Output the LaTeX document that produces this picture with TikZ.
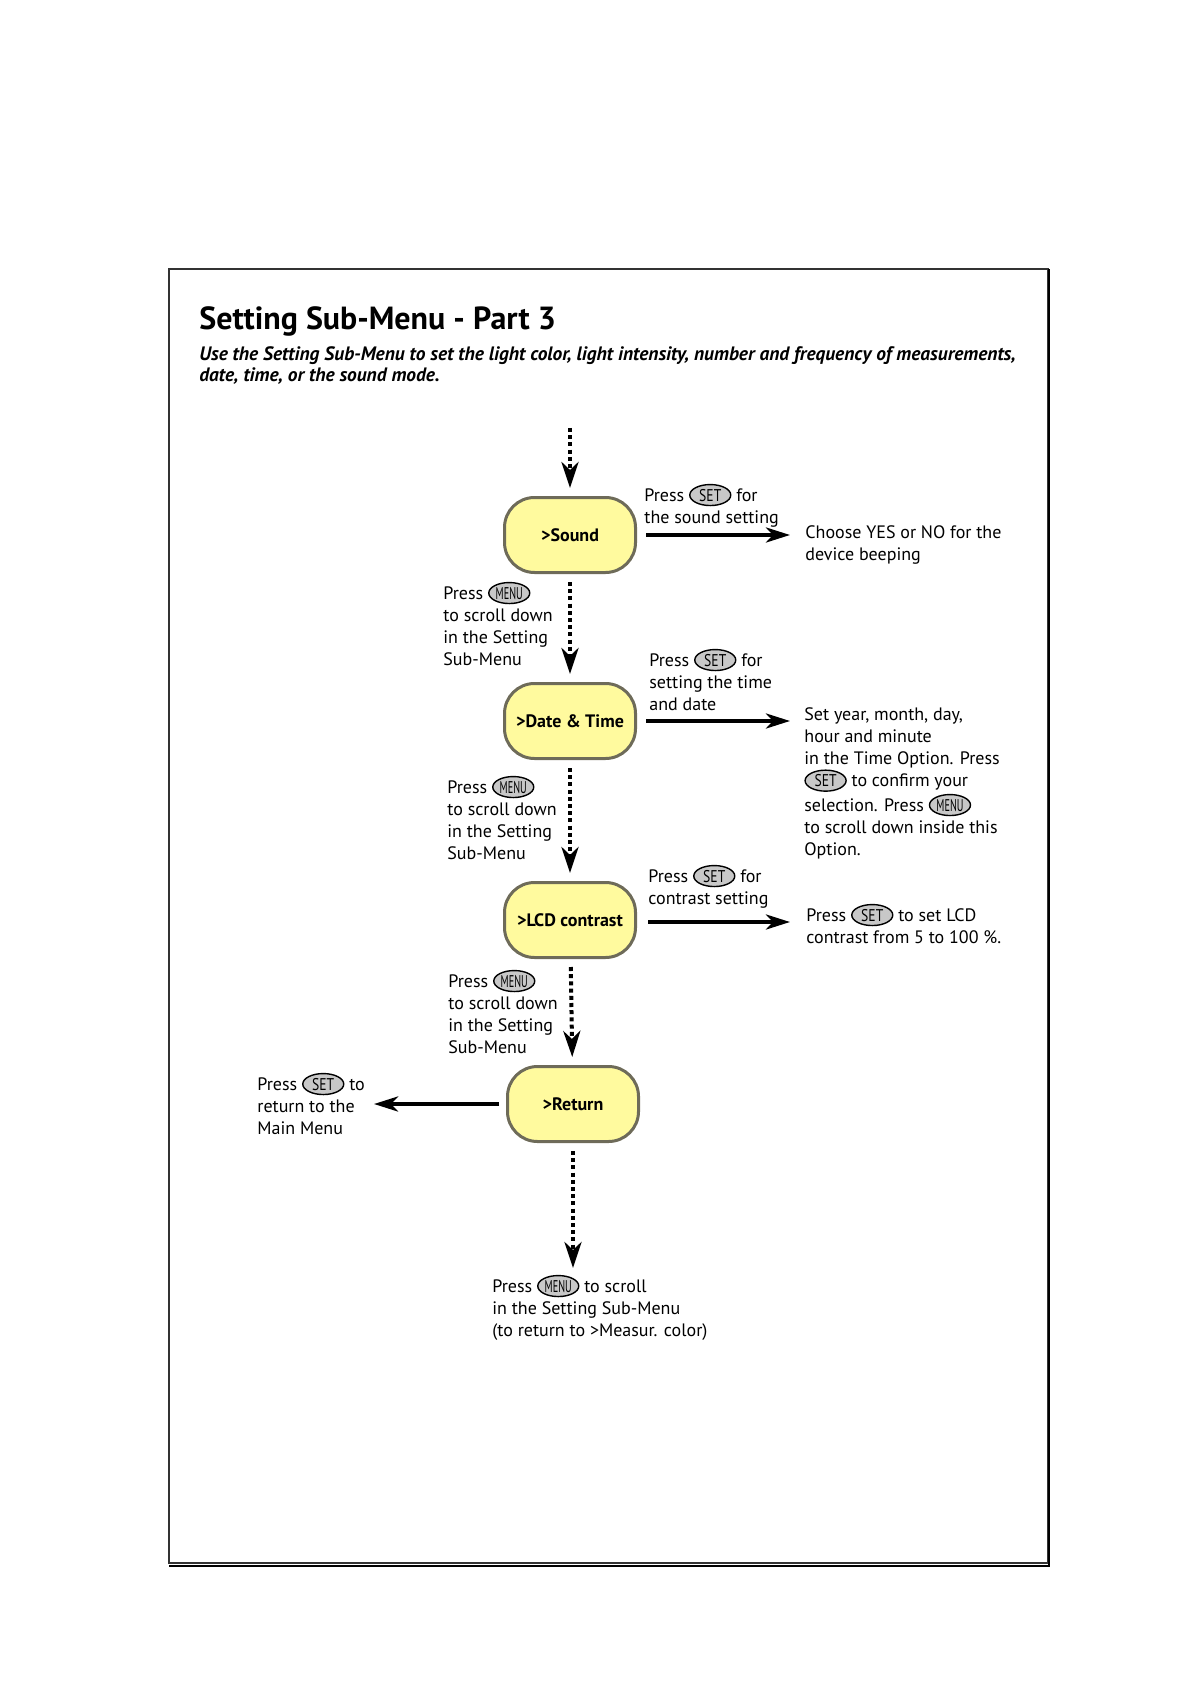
\documentclass[tikz,border=0pt]{standalone}
\usepackage{fontspec}
\usepackage{graphicx}
\setmainfont{PT Sans}
\usetikzlibrary{arrows.meta,shapes.geometric}
\definecolor{boxfill}{HTML}{FFFA9E}
\definecolor{boxedge}{HTML}{6E6B59}
\definecolor{keygray}{HTML}{C8C8C8}
\newcommand{\keycap}[1]{\tikz[baseline=(k.base)]\node[keycap](k){#1};}
\newcommand{\SET}{\keycap{\scalebox{0.8}[1]{SET}}}
\newcommand{\MENU}{\keycap{\scalebox{0.6}[1]{MENU}}}

\begin{document}
\begin{tikzpicture}[x=0.5pt,y=-0.5pt]
    \tikzset{menubox/.style={draw=boxedge, fill=boxfill, line width=1.5pt, rounded corners=15pt,
                             minimum width=65.5pt, minimum height=37.5pt, font=\bfseries\fontsize{9}{11}\selectfont}}
    \tikzset{keycap/.style={ellipse, draw, fill=keygray, line width=0.7pt, inner sep=0pt,
                            minimum width=20.5pt, minimum height=10.5pt, font=\fontsize{8.5}{9}\selectfont}}
    \tikzset{note/.style={anchor=base west, align=left, inner sep=0pt, font=\fontsize{9}{11}\selectfont}}
    \tikzset{scroll/.style={line width=2pt, dash pattern=on 2pt off 1.6pt, shorten <=4pt, shorten >=4pt,
                            -{Stealth[length=13pt, width=8.5pt, inset=4pt]}}}
    \tikzset{choose/.style={line width=2pt, -{Stealth[length=12pt, width=7.5pt, inset=3.5pt]}}}
    \useasboundingbox (0,0) rectangle (1191,1684);
    % frame
    \draw[line width=1pt, black!80] (169,269) rectangle (1048,1563);
    \draw[line width=1pt] (169,1566) -- (1049,1566) -- (1049,269);
    \node[anchor=base west, inner sep=0pt, font=\bfseries\fontsize{16}{19}\selectfont] (title) at (199,330) {Setting Sub-Menu - Part 3};
    \node[note, font=\bfseries\itshape\fontsize{9.7}{10.5}\selectfont] (intro) at (199,382)
        {Use the Setting Sub-Menu to set the light color, light intensity, number and frequency of measurements,\\
         date, time, or the sound mode.};
    % menu entries
    \node[menubox] (sound)    at (570,535)  {>Sound};
    \node[menubox] (datetime) at (570,721)  {>Date \& Time};
    \node[menubox] (lcd)      at (570,920)  {>LCD contrast};
    \node[menubox] (return)   at (573,1104) {>Return};
    \coordinate (entry) at (570,428);
    \coordinate (wrap) at (573,1272);
    \coordinate (soundend) at (790,535);
    \coordinate (dateend) at (790,721);
    \coordinate (lcdend) at (790,922);
    \coordinate (mainend) at (374,1104);
    % scrolling with MENU
    \draw[scroll, shorten <=0pt] (entry) -- (sound);
    \draw[scroll] (sound) -- (datetime);
    \draw[scroll] (datetime) -- (lcd);
    \draw[scroll] (lcd) -- (return);
    \draw[scroll, shorten >=2pt] (return) -- (wrap);
    % choosing with SET
    \draw[choose, shorten <=4.5pt] (sound) -- (soundend);
    \draw[choose, shorten <=4.5pt] (datetime) -- (dateend);
    \draw[choose, shorten <=5.5pt] (lcd.east |- lcdend) -- (lcdend);
    \draw[choose, shorten <=3.5pt] (return) -- (mainend);
    % texts (placed at the baseline of their last line)
    \node[note] (soundset) at (644,523) {Press \SET{} for\\the sound setting};
    \node[note] (soundnote) at (805,560) {Choose YES or NO for the\\device beeping};
    \node[note] (scroll1) at (443,665) {Press \MENU\\to scroll down\\in the Setting\\Sub-Menu};
    \node[note] (dateset) at (649,710) {Press \SET{} for\\setting the time\\and date};
    \node[note] (datenote) at (804,855) {Set year, month, day,\\hour and minute\\in the Time Option. Press\\
        \SET{} to confirm your\\selection. Press \MENU\\to scroll down inside this\\Option.};
    \node[note] (scroll2) at (447,859) {Press \MENU\\to scroll down\\in the Setting\\Sub-Menu};
    \node[note] (lcdset) at (648,904) {Press \SET{} for\\contrast setting};
    \node[note] (lcdnote) at (806,943) {Press \SET{} to set LCD\\contrast from 5 to 100 \%.};
    \node[note] (scroll3) at (448,1053) {Press \MENU\\to scroll down\\in the Setting\\Sub-Menu};
    \node[note] (mainnote) at (257,1134) {Press \SET{} to\\return to the\\Main Menu};
    \node[note] (wrapnote) at (492,1336) {Press \MENU{} to scroll\\in the Setting Sub-Menu\\(to return to >Measur. color)};
\end{tikzpicture}
\end{document}
